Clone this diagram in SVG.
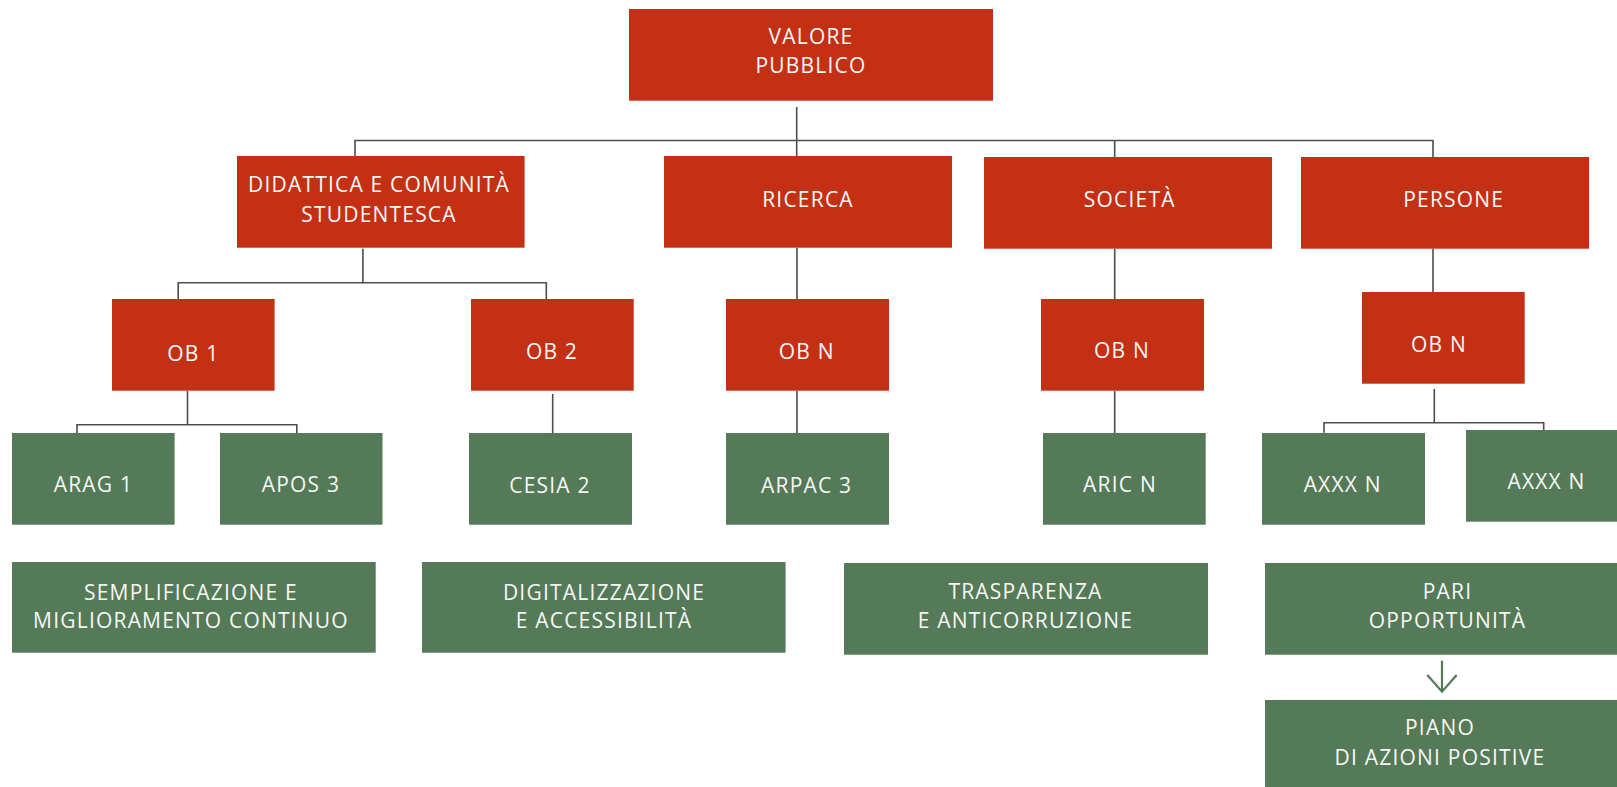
<svg xmlns="http://www.w3.org/2000/svg" width="1617" height="787" viewBox="0 0 1617 787">
<defs>
<style>
.r{fill:#c43014}
.g{fill:#547a57}
text{font-family:"Open Sans","Liberation Sans",sans-serif;font-size:21px;letter-spacing:1.2px;fill:#f7f7f7;text-anchor:middle}
.c{fill:none;stroke:#4d4d4d;stroke-width:1.6}
.a{fill:none;stroke:#547a57;stroke-width:2.2}
</style>
</defs>
<rect width="1617" height="787" fill="#ffffff"/>
<g id="connectors">
<path class="c" d="M796.7,107 V156 M355,156 V140.5 H1433 V157 M1114.7,140.5 V157"/>
<path class="c" d="M362.9,248.7 V282.7 M178.2,299 V282.7 H546.3 V299"/>
<path class="c" d="M187.5,391 V424.7 M77,433 V424.7 H296.8 V433"/>
<path class="c" d="M552.7,394 V433"/>
<path class="c" d="M797,247.7 V299 M797,390.7 V433"/>
<path class="c" d="M1114.7,248.7 V299 M1114.7,390.7 V433"/>
<path class="c" d="M1433,248.7 V292"/>
<path class="c" d="M1434.3,389 V422.7 M1324,432.7 V422.7 H1543.7 V430"/>
<path class="a" d="M1442,660.7 V691 M1427.3,675 L1442,691.7 L1456.7,675"/>
</g>
<g id="valore"><rect class="r" x="629" y="9" width="364" height="91.7"/><text x="811" y="44">VALORE</text><text x="811" y="73.3">PUBBLICO</text></g>
<g id="didattica"><rect class="r" x="237" y="156" width="287.6" height="91.7"/><text x="379" y="191.7">DIDATTICA E COMUNITÀ</text><text x="379" y="221.7">STUDENTESCA</text></g>
<g id="ricerca"><rect class="r" x="664" y="156" width="288" height="91.7"/><text x="808" y="206.7">RICERCA</text></g>
<g id="societa"><rect class="r" x="984" y="157" width="288" height="91.7"/><text x="1129.7" y="206.7">SOCIETÀ</text></g>
<g id="persone"><rect class="r" x="1301" y="157" width="288" height="91.7"/><text x="1453.7" y="206.7">PERSONE</text></g>
<g id="ob1"><rect class="r" x="112" y="299" width="162.6" height="91.7"/><text x="193.4" y="361">OB 1</text></g>
<g id="ob2"><rect class="r" x="471" y="299" width="162.7" height="91.7"/><text x="552" y="359">OB 2</text></g>
<g id="obn-ricerca"><rect class="r" x="726" y="299" width="163" height="91.7"/><text x="806.7" y="359">OB N</text></g>
<g id="obn-societa"><rect class="r" x="1041" y="299" width="163" height="91.7"/><text x="1122" y="358.3">OB N</text></g>
<g id="obn-persone"><rect class="r" x="1362" y="292" width="162.7" height="91.7"/><text x="1439" y="351.7">OB N</text></g>
<g id="arag1"><rect class="g" x="12" y="433" width="162.6" height="91.7"/><text x="93.4" y="492">ARAG 1</text></g>
<g id="apos3"><rect class="g" x="220" y="433" width="162.5" height="91.7"/><text x="300.9" y="492">APOS 3</text></g>
<g id="cesia2"><rect class="g" x="469" y="433" width="163" height="91.7"/><text x="550" y="492.7">CESIA 2</text></g>
<g id="arpac3"><rect class="g" x="726" y="433" width="163" height="91.7"/><text x="806.7" y="492.7">ARPAC 3</text></g>
<g id="aricn"><rect class="g" x="1043" y="433" width="162.7" height="91.7"/><text x="1120" y="492.3">ARIC N</text></g>
<g id="axxxn1"><rect class="g" x="1262" y="433" width="163" height="91.7"/><text x="1342.7" y="492.3">AXXX N</text></g>
<g id="axxxn2"><rect class="g" x="1466" y="430" width="163" height="91.7"/><text x="1546.5" y="489.3">AXXX N</text></g>
<g id="semplificazione"><rect class="g" x="12" y="562" width="363.7" height="90.7"/><text x="191" y="600">SEMPLIFICAZIONE E</text><text x="191" y="627.7">MIGLIORAMENTO CONTINUO</text></g>
<g id="digitalizzazione"><rect class="g" x="422" y="562" width="363.6" height="90.7"/><text x="604" y="600">DIGITALIZZAZIONE</text><text x="604" y="627.7">E ACCESSIBILITÀ</text></g>
<g id="trasparenza"><rect class="g" x="844" y="563" width="364" height="91.7"/><text x="1025.5" y="598.7">TRASPARENZA</text><text x="1025.5" y="628.3">E ANTICORRUZIONE</text></g>
<g id="pari"><rect class="g" x="1265" y="563" width="365" height="91.7"/><text x="1447.5" y="598.7">PARI</text><text x="1447.5" y="628.3">OPPORTUNITÀ</text></g>
<g id="piano"><rect class="g" x="1265" y="700" width="365" height="92"/><text x="1440" y="735">PIANO</text><text x="1440" y="765.3">DI AZIONI POSITIVE</text></g>
</svg>
